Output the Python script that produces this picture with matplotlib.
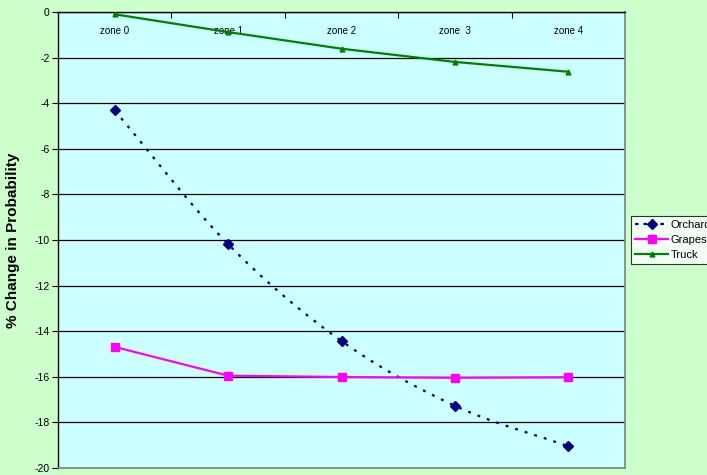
import numpy as np
import matplotlib
matplotlib.use("Agg")
import matplotlib.pyplot as plt

plt.rcParams['font.family'] = ['Liberation Sans', 'DejaVu Sans']
plt.rcParams['axes.unicode_minus'] = False

zones = ['zone 0', 'zone 1', 'zone 2', 'zone  3', 'zone 4']
orchard = [-4.32, -10.18, -14.43, -17.27, -19.05]
grapes = [-14.69, -15.95, -16.01, -16.04, -16.02]
truck = [-0.10, -0.88, -1.61, -2.19, -2.62]


def smooth(xs, ys, n=30):
    # Catmull-Rom curve through the points, like Excel's smoothed line
    xs = np.asarray(xs, float)
    ys = np.asarray(ys, float)
    px = np.concatenate([[2 * xs[0] - xs[1]], xs, [2 * xs[-1] - xs[-2]]])
    py = np.concatenate([[2 * ys[0] - ys[1]], ys, [2 * ys[-1] - ys[-2]]])
    outx, outy = [], []
    t = np.linspace(0, 1, n)
    for i in range(1, len(px) - 2):
        for p, out in ((px, outx), (py, outy)):
            p0, p1, p2, p3 = p[i - 1], p[i], p[i + 1], p[i + 2]
            out.extend(0.5 * ((2 * p1) + (-p0 + p2) * t
                              + (2 * p0 - 5 * p1 + 4 * p2 - p3) * t ** 2
                              + (-p0 + 3 * p1 - 3 * p2 + p3) * t ** 3))
    return outx, outy


fig = plt.figure(figsize=(7.07, 4.75), dpi=100, facecolor='#CCFFCC')
ax = fig.add_axes([58 / 707, 7 / 475, 567 / 707, 456 / 475], facecolor='#CCFFFF')

x = np.arange(len(zones))

# Orchard: smoothed dotted line plus diamond markers
sx, sy = smooth(x, orchard)
ax.plot(sx, sy, color='#000080', lw=1.6, dashes=(1.3, 3.2), zorder=3)
ax.plot(x, orchard, ls='none', marker='D', ms=5.5, color='#000080', zorder=4)
h_orch, = ax.plot([], [], color='#000080', lw=1.6, dashes=(1.6, 2.2),
                  marker='D', ms=5.5, label='Orchard')

h_grapes, = ax.plot(x, grapes, color='#FF00FF', lw=1.6, marker='s', ms=6,
                    label='Grapes', zorder=3)
h_truck, = ax.plot(x, truck, color='#008000', lw=1.6, marker='^', ms=3.5,
                   label='Truck', zorder=3)

ax.set_xlim(-0.5, len(zones) - 0.5)
ax.set_ylim(-20, 0)
ax.set_yticks(np.arange(-20, 1, 2))
ax.tick_params(axis='y', labelsize=7.5, length=4, width=0.8, pad=2)
ax.yaxis.grid(True, color='black', lw=0.9)
ax.set_axisbelow(True)

# category labels sit inside the plot, under the top axis
ax.xaxis.tick_top()
ax.set_xticks(x)
ax.set_xticklabels(zones, fontsize=7)
ax.tick_params(axis='x', which='major', length=0, pad=-17)
ax.set_xticks(np.arange(0.5, len(zones) - 1, 1), minor=True)
ax.tick_params(axis='x', which='minor', direction='in', length=4, width=0.8, top=True)

for side in ('left', 'top'):
    ax.spines[side].set_color('black')
    ax.spines[side].set_linewidth(1)
for side in ('right', 'bottom'):
    ax.spines[side].set_color('#808080')
    ax.spines[side].set_linewidth(1.2)

ax.set_ylabel('% Change in Probability', fontsize=11, fontweight='bold')
ax.yaxis.set_label_coords(-0.067, 0.5)

leg = fig.legend(handles=[h_orch, h_grapes, h_truck],
                 loc='upper left', bbox_to_anchor=(631 / 707, 1 - 216 / 475),
                 fontsize=8, frameon=True, fancybox=False, handlelength=3.0,
                 handletextpad=0.2, borderpad=0.35, labelspacing=0.45,
                 borderaxespad=0)
leg.get_frame().set_edgecolor('black')
leg.get_frame().set_linewidth(0.8)
leg.get_frame().set_facecolor('white')

fig.savefig('out.png', dpi=100, facecolor=fig.get_facecolor())
